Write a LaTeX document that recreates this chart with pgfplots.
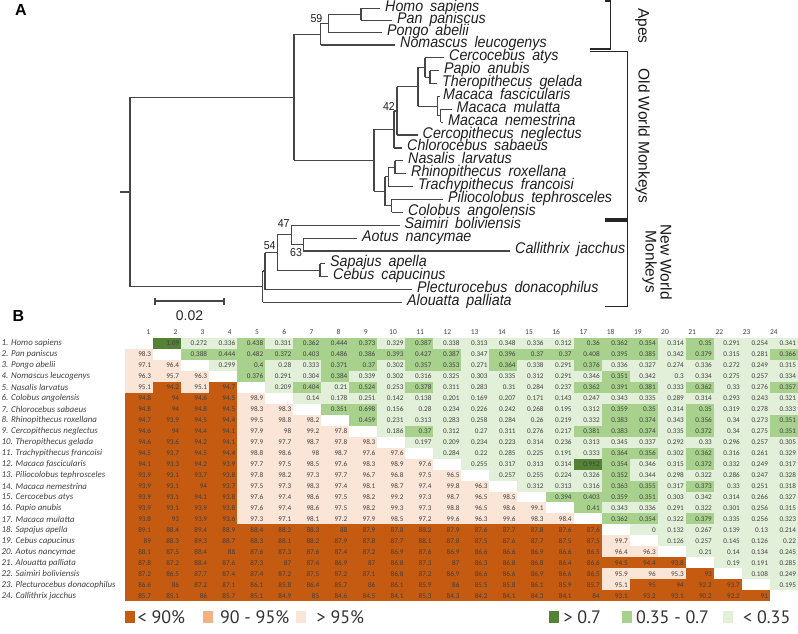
\documentclass[border=0pt]{standalone}
\usepackage{pgfplots}
\pgfplotsset{compat=1.18}
\usepackage{pgfplotstable}
\usepackage{fontspec}
\setmainfont{Carlito}
\newfontfamily\treefont[FakeStretch=0.92]{Liberation Sans}
\newfontfamily\arialfont{Liberation Sans}
\newfontfamily\legfont{PT Sans}

\definecolor{dorange}{RGB}{197,90,17}
\definecolor{morange}{RGB}{244,177,131}
\definecolor{lpink}{RGB}{251,229,214}
\definecolor{dgreen}{RGB}{84,130,53}
\definecolor{mgreen}{RGB}{169,209,142}
\definecolor{lgreen}{RGB}{226,240,217}
\definecolor{txt}{RGB}{64,64,64}
\definecolor{treec}{RGB}{70,70,70}
\definecolor{legc}{RGB}{50,50,50}

\pgfdeclareplotmark{cell}{%
  \pgfpathrectangle{\pgfpoint{-14.1bp}{-5.55bp}}{\pgfpoint{28.2bp}{11.1bp}}%
  \pgfusepathqfill}
\pgfdeclareplotmark{legsq}{%
  \pgfpathrectangle{\pgfpoint{-5bp}{-5.8bp}}{\pgfpoint{10bp}{11.6bp}}%
  \pgfusepathqfill}

% rows r = 1..24 ; columns c1..c24 ; lower triangle = identity (%), upper = distance
\pgfplotstableread{
r c1 c2 c3 c4 c5 c6 c7 c8 c9 c10 c11 c12 c13 c14 c15 c16 c17 c18 c19 c20 c21 c22 c23 c24
1 0 1.09 0.272 0.336 0.438 0.331 0.362 0.444 0.373 0.329 0.387 0.338 0.313 0.348 0.336 0.312 0.36 0.362 0.354 0.314 0.35 0.291 0.254 0.341
2 98.3 0 0.388 0.444 0.482 0.372 0.403 0.486 0.386 0.393 0.427 0.387 0.347 0.396 0.37 0.37 0.408 0.395 0.385 0.342 0.379 0.315 0.281 0.366
3 97.1 96.4 0 0.299 0.4 0.28 0.333 0.371 0.37 0.302 0.357 0.353 0.271 0.364 0.338 0.291 0.376 0.336 0.327 0.274 0.336 0.272 0.249 0.315
4 96.3 95.7 96.3 0 0.376 0.291 0.304 0.384 0.339 0.302 0.316 0.325 0.303 0.335 0.312 0.291 0.346 0.351 0.342 0.3 0.334 0.275 0.257 0.334
5 95.1 94.2 95.1 94.7 0 0.209 0.404 0.21 0.524 0.253 0.378 0.311 0.283 0.31 0.284 0.237 0.362 0.391 0.381 0.333 0.362 0.33 0.276 0.357
6 94.8 94 94.6 94.5 98.9 0 0.14 0.178 0.251 0.142 0.138 0.201 0.169 0.207 0.171 0.143 0.247 0.343 0.335 0.289 0.314 0.293 0.243 0.321
7 94.8 94 94.8 94.5 98.3 98.3 0 0.351 0.698 0.156 0.28 0.234 0.226 0.242 0.268 0.195 0.312 0.359 0.35 0.314 0.35 0.319 0.278 0.333
8 94.7 93.9 94.5 94.4 99.5 98.8 98.2 0 0.459 0.231 0.313 0.283 0.258 0.284 0.26 0.219 0.332 0.383 0.374 0.343 0.356 0.34 0.273 0.351
9 94.6 94 94.4 94.1 97.9 98 99.2 97.8 0 0.186 0.37 0.312 0.27 0.311 0.276 0.217 0.381 0.383 0.374 0.335 0.372 0.34 0.275 0.351
10 94.6 93.6 94.2 94.1 97.9 97.7 98.7 97.8 98.3 0 0.197 0.209 0.234 0.223 0.314 0.236 0.313 0.345 0.337 0.292 0.33 0.296 0.257 0.305
11 94.5 93.7 94.5 94.4 98.8 98.6 98 98.7 97.6 97.6 0 0.284 0.22 0.285 0.225 0.191 0.333 0.364 0.356 0.302 0.362 0.316 0.261 0.329
12 94.1 93.3 94.2 93.9 97.7 97.5 98.5 97.6 98.3 98.9 97.6 0 0.255 0.317 0.313 0.314 0.952 0.354 0.346 0.315 0.372 0.332 0.249 0.317
13 93.9 93.1 93.7 93.8 97.8 98.2 97.3 97.7 96.7 96.8 97.5 96.5 0 0.257 0.255 0.224 0.326 0.352 0.344 0.298 0.322 0.286 0.247 0.328
14 93.9 93.1 94 93.7 97.5 97.3 98.3 97.4 98.1 98.7 97.4 99.8 96.3 0 0.312 0.313 0.316 0.363 0.355 0.317 0.373 0.33 0.251 0.318
15 93.9 93.1 94.1 93.8 97.6 97.4 98.6 97.5 98.2 99.2 97.3 98.7 96.5 98.5 0 0.394 0.403 0.359 0.351 0.303 0.342 0.314 0.266 0.327
16 93.9 93.1 93.9 93.8 97.6 97.4 98.6 97.5 98.2 99.3 97.3 98.8 96.5 98.6 99.1 0 0.41 0.343 0.336 0.291 0.322 0.301 0.256 0.315
17 93.8 93 93.9 93.6 97.3 97.1 98.1 97.2 97.9 98.5 97.2 99.6 96.3 99.6 98.3 98.4 0 0.362 0.354 0.322 0.379 0.335 0.256 0.323
18 89.1 88.4 89.4 88.9 88.4 88.2 88.3 88 87.9 87.8 88.2 87.9 87.6 87.7 87.8 87.6 87.6 0 0 0.132 0.267 0.139 0.13 0.214
19 89 88.3 89.3 88.7 88.3 88.1 88.2 87.9 87.8 87.7 88.1 87.8 87.5 87.6 87.7 87.5 87.5 99.7 0 0.126 0.257 0.145 0.126 0.22
20 88.1 87.5 88.4 88 87.6 87.3 87.6 87.4 87.2 86.9 87.6 86.9 86.6 86.6 86.9 86.6 86.5 96.4 96.3 0 0.21 0.14 0.134 0.245
21 87.8 87.2 88.4 87.6 87.3 87 87.4 86.9 87 86.8 87.3 87 86.3 86.8 86.8 86.4 86.6 94.5 94.4 93.8 0 0.19 0.191 0.285
22 87.2 86.5 87.7 87.4 87.4 87.2 87.5 87.2 87.1 86.8 87.2 86.9 86.6 86.6 86.9 86.6 86.5 95.9 96 95.3 93 0 0.108 0.249
23 86.6 86 87.2 87.1 86.1 85.8 86.4 85.7 86 86.1 85.9 86 85.5 85.8 86.1 85.9 85.7 95.1 95 94 92.2 93.7 0 0.195
24 85.7 85.1 86 85.7 85.1 84.9 85 84.6 84.5 84.1 85.3 84.3 84.2 84.1 84.3 84.1 84 93.1 93.2 93.1 90.2 92.2 91 0
}\heat

\def\gp{\hskip0.45em\relax}

\tikzset{
  taxon/.style={anchor=base west, inner sep=0pt,
    font=\treefont\itshape\fontsize{15.5bp}{17bp}\selectfont, text=black!88},
  boot/.style={inner sep=0pt, font=\treefont\fontsize{11.5bp}{13bp}\selectfont, text=black!88},
  rowlab/.style={anchor=west, inner sep=0pt, font=\itshape\fontsize{8.9bp}{10bp}\selectfont, text=txt},
  colnum/.style={inner sep=0pt, font=\fontsize{7.5bp}{9bp}\selectfont, text=txt},
  leg/.style={anchor=west, inner sep=0pt, font=\legfont\fontsize{18bp}{20bp}\selectfont, text=legc},
  grp/.style={rotate=-90, inner sep=0pt, font=\arialfont\fontsize{15.5bp}{15bp}\selectfont, text=black!90},
}

\begin{document}
\begin{tikzpicture}
\begin{axis}[
  x=1bp, y=1bp, y dir=reverse,
  xmin=0, xmax=798, ymin=0, ymax=634,
  axis lines=none, clip=false,
]

% ---------------- heat map cells ----------------
\pgfplotsinvokeforeach{1,...,24}{
  \addplot[scatter, only marks, mark=cell,
    colormap={heat}{rgb255=(255,255,255) rgb255=(226,240,217) rgb255=(169,209,142) rgb255=(84,130,53) rgb255=(251,229,214) rgb255=(244,177,131) rgb255=(197,90,17) rgb255=(197,90,17)},
    colormap access=piecewise constant,
    point meta min=0, point meta max=7,
    scatter/use mapped color={draw=none,fill=mapped color},
    point meta=explicit]
    table[x expr={110.98+28.04*#1}, y expr={332.515+10.97*\thisrow{r}},
      meta expr={0.3+ifthenelse(\thisrow{r}==#1,0,ifthenelse(#1>\thisrow{r},ifthenelse(\thisrow{c#1}>0.7,3,ifthenelse(\thisrow{c#1}>0.3499,2,1)),ifthenelse(\thisrow{c#1}<90,6,ifthenelse(\thisrow{c#1}>95,4,5))))}] {\heat};
}
% ---------------- heat map numbers (diagonal left blank) ----------------
\pgfplotsinvokeforeach{1,...,24}{
  \addplot[only marks, mark=none, point meta=explicit symbolic,
    nodes near coords,
    restrict y to domain=0:1000,
    every node near coord/.append style={anchor=east, inner sep=0pt,
      font=\fontsize{7.2bp}{8bp}\selectfont, text=txt}]
    table[x expr={123.2+28.04*#1},
          y expr={ifthenelse(\thisrow{r}==#1,5000,332.515+10.97*\thisrow{r})},
          meta=c#1] {\heat};
}
% column numbers
\pgfplotsinvokeforeach{1,...,24}{
  \node[colnum] at (axis cs:{461+27.2*(#1-12.5)},332) {#1};
}
% row labels
\node[rowlab] at (axis cs:1.5,{332.515+10.97*1}) {1. Homo sapiens};
\node[rowlab] at (axis cs:1.5,{332.515+10.97*2}) {2. Pan paniscus};
\node[rowlab] at (axis cs:1.5,{332.515+10.97*3}) {3. Pongo abelii};
\node[rowlab] at (axis cs:1.5,{332.515+10.97*4}) {4. Nomascus leucogenys};
\node[rowlab] at (axis cs:1.5,{332.515+10.97*5}) {5. Nasalis larvatus};
\node[rowlab] at (axis cs:1.5,{332.515+10.97*6}) {6. Colobus angolensis};
\node[rowlab] at (axis cs:1.5,{332.515+10.97*7}) {7. Chlorocebus sabaeus};
\node[rowlab] at (axis cs:1.5,{332.515+10.97*8}) {8. Rhinopithecus roxellana};
\node[rowlab] at (axis cs:1.5,{332.515+10.97*9}) {9. Cercopithecus neglectus};
\node[rowlab] at (axis cs:1.5,{332.515+10.97*10}) {10. Theropithecus gelada};
\node[rowlab] at (axis cs:1.5,{332.515+10.97*11}) {11. Trachypithecus francoisi};
\node[rowlab] at (axis cs:1.5,{332.515+10.97*12}) {12. Macaca fascicularis};
\node[rowlab] at (axis cs:1.5,{332.515+10.97*13}) {13. Piliocolobus tephrosceles};
\node[rowlab] at (axis cs:1.5,{332.515+10.97*14}) {14. Macaca nemestrina};
\node[rowlab] at (axis cs:1.5,{332.515+10.97*15}) {15. Cercocebus atys};
\node[rowlab] at (axis cs:1.5,{332.515+10.97*16}) {16. Papio anubis};
\node[rowlab] at (axis cs:1.5,{332.515+10.97*17}) {17. Macaca mulatta};
\node[rowlab] at (axis cs:1.5,{332.515+10.97*18}) {18. Sapajus apella};
\node[rowlab] at (axis cs:1.5,{332.515+10.97*19}) {19. Cebus capucinus};
\node[rowlab] at (axis cs:1.5,{332.515+10.97*20}) {20. Aotus nancymae};
\node[rowlab] at (axis cs:1.5,{332.515+10.97*21}) {21. Alouatta palliata};
\node[rowlab] at (axis cs:1.5,{332.515+10.97*22}) {22. Saimiri boliviensis};
\node[rowlab] at (axis cs:1.5,{332.515+10.97*23}) {23. Plecturocebus donacophilus};
\node[rowlab] at (axis cs:1.5,{332.515+10.97*24}) {24. Callithrix jacchus};

% ---------------- tree ----------------
\addplot[line width=1.2bp, color=treec, mark=none, unbounded coords=jump] coordinates {
 (361,8.3) (361,20.5) (nan,nan)
 (328.3,14.4) (328.3,32.5) (nan,nan)
 (320.7,23.45) (320.7,45) (nan,nan)
 (430,70.7) (430,83.6) (nan,nan)
 (425,57.9) (425,77.15) (nan,nan)
 (440.5,109.4) (440.5,122.2) (nan,nan)
 (437.5,96.5) (437.5,115.8) (nan,nan)
 (418,67.5) (418,106.15) (nan,nan)
 (397,86.8) (397,135.1) (nan,nan)
 (394,110.95) (394,148.0) (nan,nan)
 (395,160.8) (395,173.7) (nan,nan)
 (388.5,167.25) (388.5,186.6) (nan,nan)
 (391.5,199.4) (391.5,212.3) (nan,nan)
 (385,176.9) (385,205.85) (nan,nan)
 (374,129.5) (374,191.4) (nan,nan)
 (294,34.2) (294,160.45) (nan,nan)
 (303.3,238.1) (303.3,250.9) (nan,nan)
 (291.7,225.2) (291.7,244.5) (nan,nan)
 (320,263.8) (320,276.7) (nan,nan)
 (277.3,234.85) (277.3,270.25) (nan,nan)
 (265,252.55) (265,289.5) (nan,nan)
 (262.7,271.0) (262.7,302.4) (nan,nan)
 (130,97.3) (130,286.7) (nan,nan)
 (361,8.3) (380,8.3) (nan,nan)
 (361,20.5) (392,20.5) (nan,nan)
 (328.3,14.4) (361,14.4) (nan,nan)
 (328.3,32.5) (382,32.5) (nan,nan)
 (320.7,23.45) (328.3,23.45) (nan,nan)
 (320.7,45) (395,45) (nan,nan)
 (294,34.2) (320.7,34.2) (nan,nan)
 (430,70.7) (439,70.7) (nan,nan)
 (430,83.6) (437,83.6) (nan,nan)
 (425,57.9) (444,57.9) (nan,nan)
 (425,77.15) (430,77.15) (nan,nan)
 (440.5,109.4) (451.5,109.4) (nan,nan)
 (440.5,122.2) (443,122.2) (nan,nan)
 (437.5,96.5) (440,96.5) (nan,nan)
 (437.5,115.8) (440.5,115.8) (nan,nan)
 (418,67.5) (425,67.5) (nan,nan)
 (418,106.15) (437.5,106.15) (nan,nan)
 (397,86.8) (418,86.8) (nan,nan)
 (397,135.1) (417.5,135.1) (nan,nan)
 (394,110.95) (397,110.95) (nan,nan)
 (394,148.0) (402,148.0) (nan,nan)
 (395,160.8) (403,160.8) (nan,nan)
 (395,173.7) (406,173.7) (nan,nan)
 (388.5,167.25) (395,167.25) (nan,nan)
 (388.5,186.6) (413,186.6) (nan,nan)
 (391.5,199.4) (443,199.4) (nan,nan)
 (391.5,212.3) (403,212.3) (nan,nan)
 (385,176.9) (388.5,176.9) (nan,nan)
 (385,205.85) (391.5,205.85) (nan,nan)
 (374,129.5) (394,129.5) (nan,nan)
 (374,191.4) (385,191.4) (nan,nan)
 (294,160.45) (374,160.45) (nan,nan)
 (130,97.3) (294,97.3) (nan,nan)
 (303.3,238.1) (357,238.1) (nan,nan)
 (303.3,250.9) (510,250.9) (nan,nan)
 (291.7,225.2) (399.5,225.2) (nan,nan)
 (291.7,244.5) (303.3,244.5) (nan,nan)
 (320,263.8) (325,263.8) (nan,nan)
 (320,276.7) (328,276.7) (nan,nan)
 (277.3,234.85) (291.7,234.85) (nan,nan)
 (277.3,270.25) (320,270.25) (nan,nan)
 (265,252.55) (277.3,252.55) (nan,nan)
 (265,289.5) (412,289.5) (nan,nan)
 (262.7,271.0) (265,271.0) (nan,nan)
 (262.7,302.4) (402,302.4) (nan,nan)
 (130,286.7) (262.7,286.7) (nan,nan)
 (119.5,192.0) (130,192.0)
};
% scale bar
\addplot[line width=1.2bp, color=treec, mark=none, unbounded coords=jump] coordinates {
 (155,301) (224,301) (nan,nan) (155,297.5) (155,304.5) (nan,nan) (224,297.5) (224,304.5)
};
% brackets
\addplot[line width=1.6bp, color=black!85, mark=none, unbounded coords=jump] coordinates {
 (605,1) (610.5,1) (610.5,49) (590,49) (nan,nan)
 (590,51.5) (627.5,51.5) (627.5,219) (605,219) (nan,nan)
 (605,221) (627.5,221) (627.5,306.5) (605,306.5)
};

% taxon labels (baseline a little below the branch)
\node[taxon] at (axis cs:385,11.3) {Homo\gp sapiens};
\node[taxon] at (axis cs:397,23.5) {Pan\gp paniscus};
\node[taxon] at (axis cs:387,35.5) {Pongo\gp abelii};
\node[taxon] at (axis cs:400,48) {Nomascus\gp leucogenys};
\node[taxon] at (axis cs:449,60.9) {Cercocebus\gp atys};
\node[taxon] at (axis cs:444,73.7) {Papio\gp anubis};
\node[taxon] at (axis cs:442,86.6) {Theropithecus\gp gelada};
\node[taxon] at (axis cs:443,99.5) {Macaca\gp fascicularis};
\node[taxon] at (axis cs:456.5,112.4) {Macaca\gp mulatta};
\node[taxon] at (axis cs:448,125.2) {Macaca\gp nemestrina};
\node[taxon] at (axis cs:422.5,138.1) {Cercopithecus\gp neglectus};
\node[taxon] at (axis cs:407,151.0) {Chlorocebus\gp sabaeus};
\node[taxon] at (axis cs:408,163.8) {Nasalis\gp larvatus};
\node[taxon] at (axis cs:411,176.7) {Rhinopithecus\gp roxellana};
\node[taxon] at (axis cs:418,189.6) {Trachypithecus\gp francoisi};
\node[taxon] at (axis cs:448,202.4) {Piliocolobus\gp tephrosceles};
\node[taxon] at (axis cs:408,215.3) {Colobus\gp angolensis};
\node[taxon] at (axis cs:404.5,228.2) {Saimiri\gp boliviensis};
\node[taxon] at (axis cs:362,241.1) {Aotus\gp nancymae};
\node[taxon] at (axis cs:515,253.9) {Callithrix\gp jacchus};
\node[taxon] at (axis cs:330,266.8) {Sapajus\gp apella};
\node[taxon] at (axis cs:333,279.7) {Cebus\gp capucinus};
\node[taxon] at (axis cs:417,292.5) {Plecturocebus\gp donacophilus};
\node[taxon] at (axis cs:407,305.4) {Alouatta\gp palliata};
% bootstrap values
\node[boot, anchor=east] at (axis cs:322.5,18.3) {59};
\node[boot, anchor=east] at (axis cs:395,106.5) {42};
\node[boot] at (axis cs:283.7,224) {47};
\node[boot] at (axis cs:269.7,245.5) {54};
\node[boot] at (axis cs:296,253) {63};
% scale label
\node[inner sep=0pt, font=\arialfont\fontsize{14bp}{16bp}\selectfont, text=black!85] at (axis cs:189.5,316) {0.02};
% group labels
\node[grp] at (axis cs:642,26) {Apes};
\node[grp] at (axis cs:642.5,136) {Old World Monkeys};
\node[grp, align=center] at (axis cs:657,262) {New World\\Monkeys};
% panel letters
\node[inner sep=0pt, font=\arialfont\bfseries\fontsize{16bp}{18bp}\selectfont] at (axis cs:21,10) {A};
\node[inner sep=0pt, font=\arialfont\bfseries\fontsize{16bp}{18bp}\selectfont] at (axis cs:18.5,316) {B};

% ---------------- legend ----------------
\addplot[only marks, mark=legsq, color=dorange] coordinates {(129.8,617)};
\addplot[only marks, mark=legsq, color=morange] coordinates {(208.2,617)};
\addplot[only marks, mark=legsq, color=lpink] coordinates {(301,617)};
\addplot[only marks, mark=legsq, color=dgreen] coordinates {(553.5,617)};
\addplot[only marks, mark=legsq, color=mgreen] coordinates {(626.5,617)};
\addplot[only marks, mark=legsq, color=lgreen] coordinates {(727.7,617)};
\node[leg] at (axis cs:137.5,617) {< 90\%};
\node[leg] at (axis cs:219.8,617) {90 - 95\%};
\node[leg] at (axis cs:316.5,617) {> 95\%};
\node[leg] at (axis cs:563.4,617) {> 0.7};
\node[leg] at (axis cs:636,617) {0.35 - 0.7};
\node[leg] at (axis cs:743,617) {< 0.35};
\end{axis}
\pgfresetboundingbox
\path (current axis.south west) rectangle (current axis.north east);
\end{tikzpicture}
\end{document}
